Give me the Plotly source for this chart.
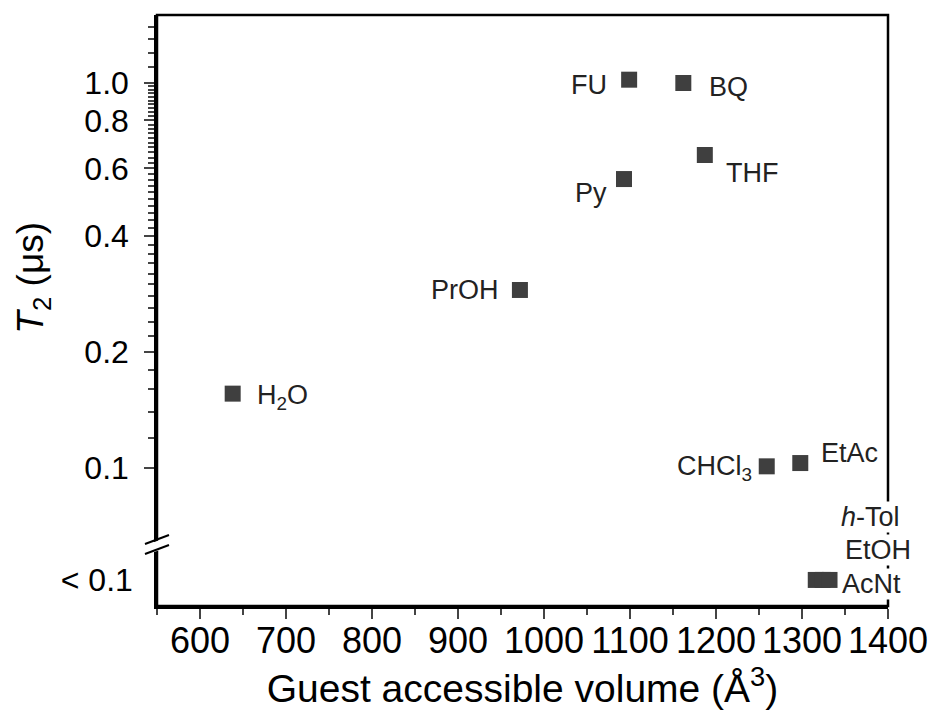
import plotly.graph_objects as go
import math

# ---- data ----
names = ["H<sub>2</sub>O", "PrOH", "Py", "FU", "BQ", "THF", "CHCl<sub>3</sub>", "EtAc"]
volume = [638, 972, 1093, 1099, 1162, 1187, 1259, 1298]
t2 = [0.156, 0.29, 0.563, 1.02, 1.0, 0.65, 0.101, 0.103]

low_names = ["<i>h</i>-Tol", "EtOH", "AcNt"]
low_volume = [1316, 1324, 1332]
low_category = "< 0.1"

x_ticks = [600, 700, 800, 900, 1000, 1100, 1200, 1300, 1400]
y_ticks = [0.1, 0.2, 0.4, 0.6, 0.8, 1.0]
y_tick_text = ["0.1", "0.2", "0.4", "0.6", "0.8", "1.0"]

# ---- label placement (style only) ----
label_style = {
    "H<sub>2</sub>O": ("left", 22, -3),
    "PrOH": ("right", -19, 0),
    "Py": ("right", -15, -14),
    "FU": ("right", -20, -5),
    "BQ": ("left", 24, -4),
    "THF": ("left", 19, -18),
    "CHCl<sub>3</sub>": ("right", -13, -2),
    "EtAc": ("left", 19, 10),
}
low_label_style = {
    "<i>h</i>-Tol": ("left", 24, 63),
    "EtOH": ("left", 21, 30),
    "AcNt": ("left", 11, -4),
}

FONT = "Arial, Liberation Sans, sans-serif"
MARK = "#3f3f3f"
LBL = 27
split = 0.105

y_minor = []
for i in range(6, 50):
    v = round(i * 0.02, 3)
    if all(abs(v - t) > 1e-6 for t in y_ticks):
        y_minor.append(v)
y_minor += [1.1, 1.2, 1.3, 1.4]

fig = go.Figure()
fig.add_trace(go.Scatter(
    x=volume, y=t2, mode="markers", xaxis="x", yaxis="y",
    marker=dict(symbol="square", size=16, color=MARK, line=dict(width=0)),
    showlegend=False, hoverinfo="skip"))
fig.add_trace(go.Scatter(
    x=low_volume, y=[low_category] * len(low_volume), mode="markers", xaxis="x", yaxis="y2",
    marker=dict(symbol="square", size=16, color=MARK, line=dict(width=0)),
    showlegend=False, hoverinfo="skip"))

ann = []
for n, xv, yv in zip(names, volume, t2):
    anc, dx, dy = label_style[n]
    ann.append(dict(x=xv, y=math.log10(yv), xref="x", yref="y", text=n, showarrow=False,
                    xanchor=anc, yanchor="middle", xshift=dx, yshift=dy,
                    font=dict(family=FONT, size=LBL, color="#222222")))
for n, xv in zip(low_names, low_volume):
    anc, dx, dy = low_label_style[n]
    ann.append(dict(x=xv, y=low_category, xref="x", yref="y2", text=n, showarrow=False,
                    xanchor=anc, yanchor="middle", xshift=dx, yshift=dy,
                    bgcolor="white", borderpad=0,
                    font=dict(family=FONT, size=LBL, color="#222222")))
ann.append(dict(x=-0.17, y=0.555, xref="paper", yref="paper", text="<i>T</i><sub>2</sub> (μs)",
                showarrow=False, textangle=-90, xanchor="center", yanchor="middle",
                font=dict(family=FONT, size=37, color="black")))

shapes = [
    dict(type="rect", xref="paper", yref="paper", x0=0, y0=0, x1=1, y1=1,
         line=dict(color="black", width=2.5), fillcolor="rgba(0,0,0,0)"),
    # white gap in axis
    dict(type="path", xref="paper", yref="paper", xsizemode="pixel", ysizemode="pixel",
         xanchor=0, yanchor=split,
         path="M -11,-1 L 11,7 L 11,-3 L -11,-11 Z", fillcolor="white", line=dict(width=0)),
    dict(type="line", xref="paper", yref="paper", xsizemode="pixel", ysizemode="pixel",
         xanchor=0, yanchor=split, x0=-12, y0=0, x1=12, y1=9,
         line=dict(color="black", width=2)),
    dict(type="line", xref="paper", yref="paper", xsizemode="pixel", ysizemode="pixel",
         xanchor=0, yanchor=split, x0=-12, y0=-10, x1=12, y1=-1,
         line=dict(color="black", width=2)),
]

fig.update_layout(
    width=935, height=714,
    margin=dict(l=157, r=47, t=15, b=108, autoexpand=False),
    paper_bgcolor="white", plot_bgcolor="white",
    font=dict(family=FONT, size=32, color="black"),
    xaxis=dict(range=[550, 1400], tickvals=x_ticks, ticks="outside", ticklen=10, tickwidth=2,
               showline=True, linewidth=2.5, linecolor="black", mirror=False, showgrid=False,
               zeroline=False, tickfont=dict(size=36), ticklabelstandoff=-9, automargin=False,
               minor=dict(dtick=50, tick0=550, ticks="outside", ticklen=6, tickwidth=2),
               title=dict(text="Guest accessible volume (Å<sup>3</sup>)", standoff=4,
                          font=dict(size=39)),
               anchor="y2"),
    yaxis=dict(type="log", domain=[split, 1], range=[0.1766 - (1 - split) * 591 / 385, 0.1766],
               tickvals=y_ticks, ticktext=y_tick_text, ticks="outside", ticklen=10, tickwidth=2,
               showline=True, linewidth=2.5, linecolor="black", mirror=False, showgrid=False,
               zeroline=False, tickfont=dict(size=32), ticklabelstandoff=9, automargin=False,
               minor=dict(tickmode="array", tickvals=y_minor, ticks="outside", ticklen=6,
                          tickwidth=1.5),
               anchor="x"),
    yaxis2=dict(type="category", domain=[0, split], range=[-0.42, 0.58],
                ticks="", showline=True, linewidth=2.5, linecolor="black", mirror=False,
                showgrid=False, zeroline=False, tickfont=dict(size=32), ticklabelstandoff=15,
                automargin=False, anchor="x"),
    annotations=ann,
    shapes=shapes,
)

fig.write_html("out.html", config={"displayModeBar": False},
               post_script="document.body.style.margin='0';")
